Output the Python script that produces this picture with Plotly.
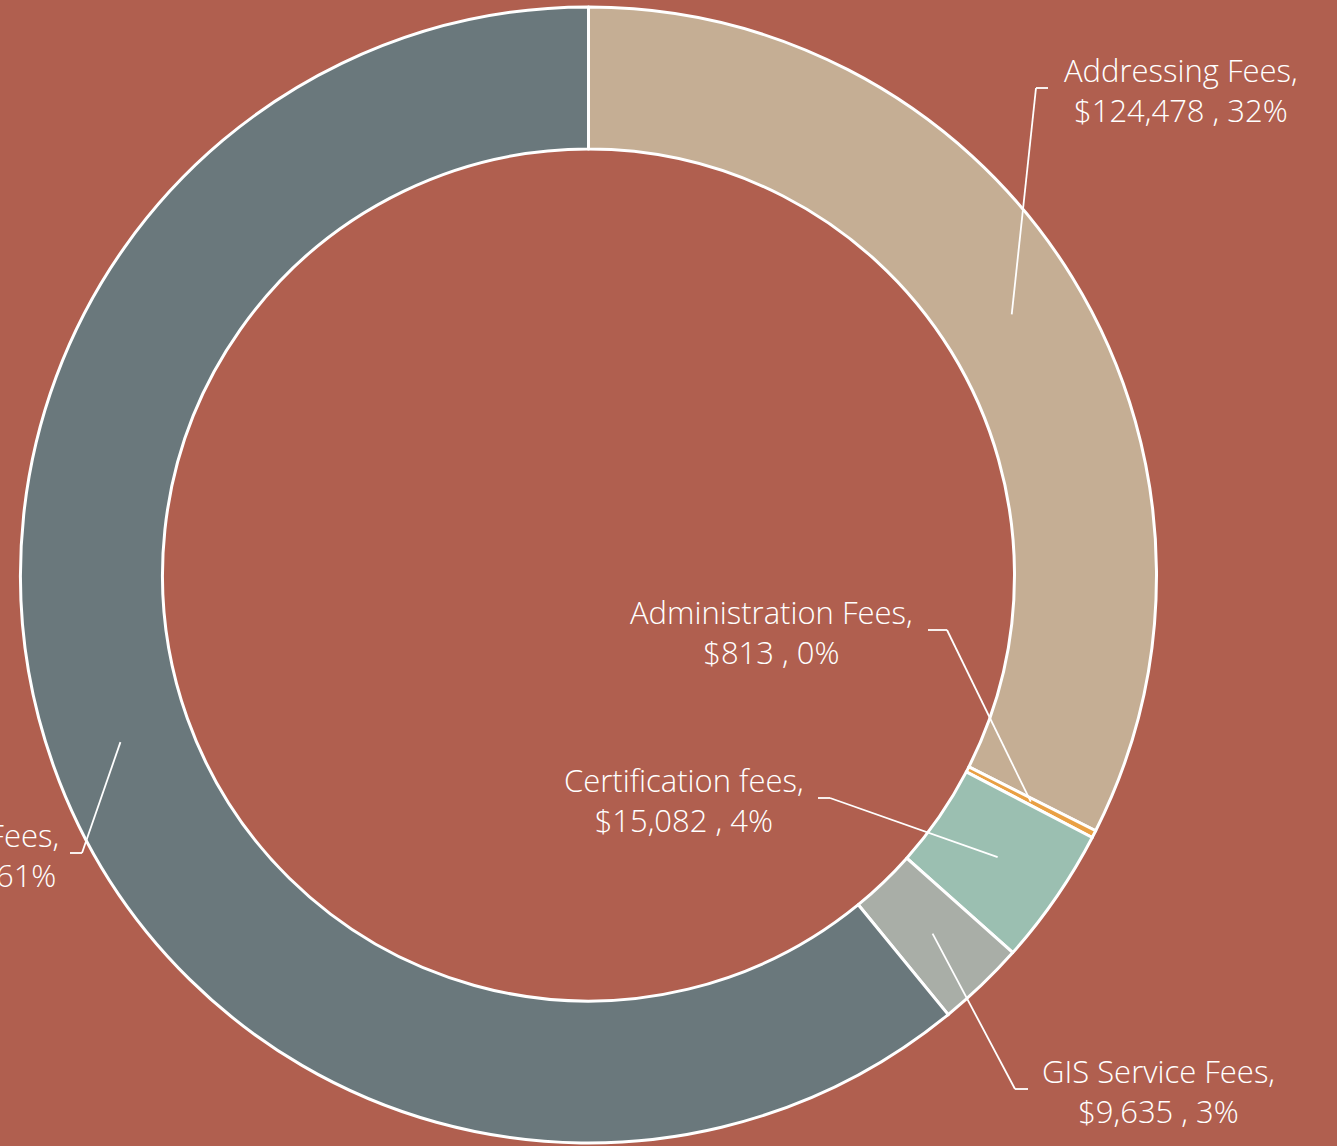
import math
import plotly.graph_objects as go

# ---- data ----
categories = ["Addressing Fees", "Administration Fees", "Certification fees",
              "GIS Service Fees", "Recording Fees"]
values = [124478, 813, 15082, 9635, 233790]
colors = ["#C5AE94", "#E9A044", "#9BBFB1", "#A9AEA7", "#6A787C"]

# ---- layout ----
W, H = 1337, 1146
BG = "#B05F4F"
CX, CY, R_OUT, HOLE = 588.5, 575.0, 568.0, 0.75

def px(x, y):
    return x / W, 1 - y / H

total = sum(values)
fig = go.Figure()
fig.add_trace(go.Pie(
    labels=categories, values=values, sort=False, direction="clockwise",
    rotation=0, hole=HOLE, textinfo="none", hoverinfo="label+value+percent",
    marker=dict(colors=colors, line=dict(color="white", width=3)),
    domain=dict(x=[(CX - R_OUT) / W, (CX + R_OUT) / W],
                y=[1 - (CY + R_OUT) / H, 1 - (CY - R_OUT) / H]),
    showlegend=False,
))

# label placement: (label center x px, label center y px, elbow x px, horizontal end x px)
label_pos = [
    (1181, 90, 1036, 1048),
    (771, 632, 947, 928),
    (684, 800, 830, 818),
    (1158, 1091, 1015, 1028),
    (-51, 855, 82, 70),
]

shapes = []
annotations = []
r_mid = R_OUT * (1 + HOLE) / 2
cum = 0
for name, v, (lx, ly, ex, hx) in zip(categories, values, label_pos):
    mid = (cum + v / 2) / total * 2 * math.pi
    cum += v
    sx = CX + r_mid * math.sin(mid)
    sy = CY - r_mid * math.cos(mid)
    ey = ly - 2
    for (x0, y0, x1, y1) in [(sx, sy, ex, ey), (ex, ey, hx, ey)]:
        a0, b0 = px(x0, y0)
        a1, b1 = px(x1, y1)
        shapes.append(dict(type="line", xref="paper", yref="paper",
                           x0=a0, y0=b0, x1=a1, y1=b1,
                           line=dict(color="white", width=1.8), layer="above"))
    pct = round(v / total * 100)
    ax, ay = px(lx, ly)
    annotations.append(dict(
        x=ax, y=ay, xref="paper", yref="paper", xanchor="center", yanchor="middle",
        text=f"{name},<br>${v:,} , {pct}%", showarrow=False, align="center",
        font=dict(family="Open Sans", size=31, color="white", weight=300)))

fig.update_layout(
    width=W, height=H, margin=dict(l=0, r=0, t=0, b=0),
    paper_bgcolor=BG, plot_bgcolor=BG,
    shapes=shapes, annotations=annotations,
)
fig.write_html(
    "out.html",
    config={"displayModeBar": False},
    post_script="document.body.style.margin='0';document.body.style.background='%s';" % BG,
)
